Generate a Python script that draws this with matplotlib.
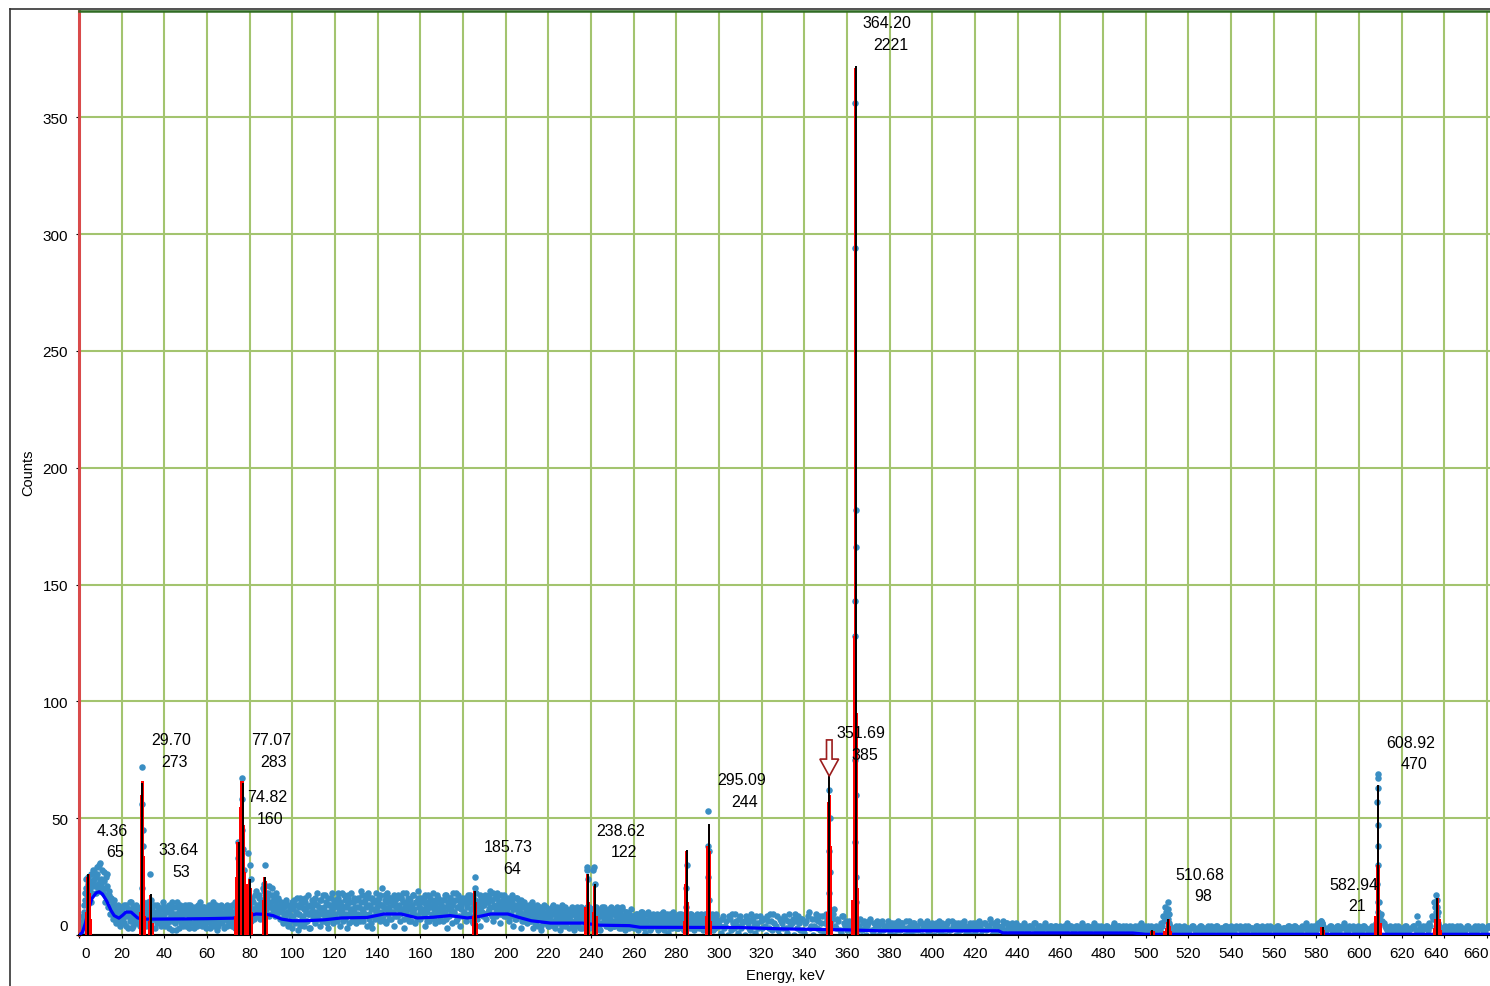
import numpy as np
import matplotlib.pyplot as plt
import matplotlib.transforms as mtransforms
from matplotlib.lines import Line2D
from matplotlib.patches import Polygon

plt.rcParams['font.family'] = ['Liberation Sans', 'DejaVu Sans']

# spectrum counts, even channels (0.5 keV step) from 0 to 299.5 keV
counts_lo = [
    0, 1, 2, 4, 8, 13, 18, 24, 22, 16, 20, 26, 18, 23, 27, 21, 25, 29, 22, 19,
    31, 24, 20, 27, 17, 25, 21, 15, 19, 12, 16, 10, 14, 8, 11, 6, 12, 9, 4, 10,
    7, 12, 5, 9, 13, 8, 3, 11, 6, 14, 9, 4, 10, 7, 12, 5, 8, 11, 6, 9,
    5, 10, 8, 13, 6, 11, 9, 4, 12, 7, 10, 3, 8, 13, 6, 9, 11, 5, 7, 12,
    9, 4, 11, 7, 13, 6, 10, 2, 8, 12, 5, 9, 14, 7, 3, 10, 8, 12, 6, 11,
    4, 9, 13, 7, 10, 5, 12, 8, 3, 11, 6, 9, 13, 7, 10, 4, 8, 12, 5, 9,
    11, 6, 9, 3, 12, 8, 10, 5, 13, 7, 4, 11, 9, 6, 12, 8, 3, 10, 7, 13,
    6, 9, 12, 4, 10, 8, 14, 7, 11, 5, 13, 9, 6, 12, 8, 10, 4, 11, 7, 9,
    12, 6, 15, 9, 11, 17, 8, 13, 10, 16, 7, 14, 11, 19, 9, 15, 12, 18, 8, 13,
    14, 20, 10, 16, 12, 18, 9, 15, 11, 13, 7, 12, 9, 14, 6, 10, 13, 5, 11, 8,
    3, 11, 15, 6, 13, 2, 9, 16, 5, 12, 8, 4, 14, 10, 6, 17, 9, 3, 12, 7,
    14, 5, 10, 18, 7, 12, 4, 15, 9, 11, 6, 17, 10, 3, 13, 8, 16, 11, 5, 12,
    9, 15, 6, 18, 11, 4, 13, 10, 17, 7, 12, 3, 16, 9, 11, 18, 6, 14, 10, 15,
    5, 12, 16, 8, 19, 11, 6, 14, 9, 17, 4, 13, 7, 16, 11, 3, 15, 8, 18, 12,
    10, 16, 6, 13, 20, 8, 12, 17, 5, 14, 11, 7, 16, 10, 13, 4, 15, 12, 8, 17,
    13, 6, 16, 10, 14, 3, 12, 18, 8, 15, 11, 6, 13, 17, 9, 5, 14, 8, 19, 12,
    7, 14, 11, 16, 4, 13, 10, 17, 6, 12, 15, 8, 18, 11, 5, 14, 9, 16, 7, 13,
    12, 6, 15, 10, 17, 3, 13, 8, 16, 11, 5, 14, 9, 18, 7, 12, 15, 4, 13, 8,
    14, 9, 16, 6, 12, 15, 8, 17, 11, 5, 13, 9, 18, 7, 14, 12, 4, 16, 10, 8,
    13, 17, 7, 14, 11, 19, 9, 15, 6, 12, 16, 8, 18, 11, 14, 5, 13, 9, 17, 12,
    8, 15, 12, 6, 14, 9, 17, 4, 13, 11, 7, 16, 8, 12, 3, 14, 9, 6, 13, 10,
    5, 11, 8, 13, 6, 10, 3, 12, 7, 9, 4, 11, 8, 2, 10, 6, 13, 5, 9, 7,
    10, 4, 8, 12, 6, 9, 3, 11, 7, 5, 10, 2, 8, 13, 6, 9, 4, 11, 7, 3,
    8, 11, 5, 9, 2, 10, 6, 12, 4, 8, 7, 11, 3, 9, 6, 10, 5, 8, 12, 7,
    9, 5, 11, 7, 3, 10, 6, 8, 2, 9, 12, 5, 7, 10, 4, 8, 6, 11, 3, 9,
    6, 10, 4, 8, 12, 5, 7, 9, 3, 11, 6, 8, 2, 10, 5, 7, 9, 4, 8, 6,
    3, 7, 5, 9, 2, 6, 8, 4, 10, 5, 7, 1, 6, 9, 4, 8, 3, 6, 5, 7,
    8, 4, 6, 2, 7, 5, 9, 3, 6, 8, 4, 7, 1, 5, 9, 6, 3, 8, 4, 6,
    5, 8, 3, 6, 9, 4, 7, 2, 6, 5, 8, 4, 7, 3, 9, 5, 6, 2, 8, 4,
    6, 3, 7, 5, 8, 2, 6, 9, 4, 7, 3, 5, 8, 6, 2, 7, 4, 9, 5, 6,
]

# odd channels, 0.25 to 299.75 keV
counts_lo2 = [
    0, 1, 3, 6, 10, 15, 20, 17, 25, 19, 23, 14, 21, 28, 24, 18, 26, 20, 30, 23,
    22, 28, 18, 23, 14, 20, 26, 12, 17, 9, 13, 7, 15, 10, 5, 11, 13, 8, 6, 12,
    10, 6, 13, 8, 4, 11, 9, 14, 7, 3, 12, 8, 5, 13, 10, 6, 9, 4, 11, 8,
    12, 7, 4, 10, 14, 8, 6, 11, 3, 9, 13, 7, 10, 5, 12, 8, 4, 11, 14, 6,
    7, 12, 5, 10, 3, 11, 8, 14, 6, 9, 2, 12, 7, 10, 13, 5, 11, 4, 9, 13,
    10, 6, 11, 3, 13, 8, 5, 10, 12, 7, 4, 11, 8, 14, 5, 9, 12, 6, 10, 3,
    8, 13, 5, 10, 7, 14, 4, 11, 9, 2, 12, 6, 10, 13, 5, 9, 12, 7, 4, 10,
    11, 5, 8, 13, 6, 10, 3, 12, 8, 14, 6, 9, 12, 7, 10, 13, 8, 5, 12, 9,
    9, 16, 11, 14, 7, 19, 12, 10, 17, 13, 8, 15, 20, 10, 14, 11, 16, 9, 21, 12,
    17, 11, 15, 8, 13, 10, 16, 12, 7, 14, 10, 5, 12, 8, 15, 4, 9, 12, 7, 14,
    8, 13, 5, 10, 16, 9, 12, 4, 14, 7, 11, 16, 6, 12, 9, 3, 13, 10, 15, 8,
    10, 16, 7, 13, 9, 15, 11, 6, 17, 12, 8, 14, 5, 16, 10, 13, 7, 18, 9, 14,
    13, 7, 16, 10, 14, 8, 18, 6, 12, 15, 9, 13, 17, 5, 14, 11, 8, 16, 12, 6,
    15, 9, 12, 6, 14, 17, 10, 8, 15, 12, 18, 9, 13, 5, 16, 11, 14, 7, 10, 15,
    14, 8, 17, 10, 13, 6, 15, 11, 18, 9, 12, 16, 7, 14, 10, 17, 8, 13, 16, 11,
    9, 16, 11, 18, 7, 14, 10, 13, 16, 6, 15, 12, 9, 17, 11, 14, 7, 16, 12, 10,
    16, 10, 14, 8, 17, 11, 6, 14, 12, 16, 9, 13, 7, 15, 12, 17, 10, 6, 14, 11,
    15, 9, 12, 17, 7, 14, 11, 16, 9, 13, 18, 10, 15, 6, 12, 17, 8, 14, 11, 16,
    10, 15, 8, 13, 17, 9, 14, 11, 6, 16, 12, 15, 8, 13, 10, 17, 12, 9, 14, 16,
    9, 14, 16, 10, 17, 12, 15, 8, 18, 13, 10, 16, 12, 14, 9, 17, 11, 15, 8, 14,
    14, 10, 16, 12, 8, 15, 11, 13, 7, 16, 12, 9, 14, 10, 15, 6, 12, 14, 8, 11,
    9, 13, 6, 11, 14, 8, 12, 5, 10, 13, 7, 9, 12, 4, 11, 8, 6, 12, 10, 4,
    7, 11, 5, 9, 13, 4, 10, 7, 12, 8, 6, 11, 4, 9, 7, 12, 5, 10, 8, 6,
    10, 6, 12, 4, 9, 7, 11, 5, 10, 3, 12, 8, 6, 11, 4, 9, 12, 6, 3, 10,
    6, 11, 4, 9, 12, 7, 10, 3, 8, 11, 5, 9, 12, 6, 10, 4, 9, 7, 12, 5,
    9, 4, 11, 6, 8, 10, 3, 9, 7, 12, 4, 8, 10, 5, 9, 3, 7, 11, 4, 8,
    7, 4, 9, 6, 3, 8, 10, 5, 7, 3, 9, 6, 4, 10, 7, 2, 8, 5, 9, 4,
    5, 9, 3, 7, 8, 4, 6, 10, 2, 7, 5, 9, 4, 8, 3, 7, 10, 5, 7, 3,
    7, 3, 9, 5, 4, 8, 6, 2, 9, 7, 4, 6, 9, 5, 7, 3, 8, 6, 4, 9,
    4, 8, 5, 9, 3, 6, 7, 4, 9, 5, 8, 2, 6, 9, 4, 7, 3, 8, 6, 4,
]

# 1 keV channels from 300 keV upward
counts_hi = [
    6, 1, 8, 4, 0, 7, 9, 3, 6, 1, 8, 5, 0, 7, 3, 9, 6, 1, 5, 8,
    3, 7, 0, 6, 9, 2, 5, 8, 0, 6, 3, 7, 1, 9, 5, 0, 6, 8, 2, 7,
    1, 6, 10, 4, 0, 7, 3, 8, 5, 1, 9, 4, 0, 7, 11, 3, 6, 1, 8, 4,
    2, 6, 0, 5, 1, 4, 7, 2, 6, 0, 5, 7, 1, 3, 6, 0, 5, 2, 4, 6,
    1, 5, 0, 4, 6, 2, 5, 0, 3, 6, 1, 5, 2, 4, 6, 0, 3, 5, 1, 4,
    5, 0, 3, 6, 1, 4, 0, 5, 2, 6, 3, 0, 5, 2, 4, 6, 1, 4, 0, 5,
    1, 4, 6, 0, 5, 2, 3, 7, 0, 5, 1, 4, 2, 6, 0, 5, 3, 1, 4, 5,
    2, 4, 0, 5, 3, 1, 4, 0, 5, 2, 4, 1, 0, 5, 3, 4, 1, 2, 4, 0,
    4, 1, 3, 5, 0, 4, 2, 0, 4, 3, 5, 1, 2, 4, 0, 3, 5, 1, 3, 4,
    0, 3, 4, 1, 2, 5, 0, 4, 3, 1, 3, 4, 0, 2, 1, 4, 3, 0, 5, 2,
    1, 4, 3, 0, 2, 4, 3, 5, 8, 12, 9, 5, 3, 1, 4, 2, 0, 3, 4, 1,
    3, 0, 4, 2, 1, 3, 4, 0, 2, 4, 1, 3, 0, 4, 2, 1, 3, 4, 2, 0,
    4, 1, 3, 0, 4, 2, 1, 3, 4, 0, 3, 1, 4, 2, 0, 3, 1, 4, 2, 0,
    3, 1, 4, 2, 0, 3, 1, 4, 2, 0, 4, 3, 1, 2, 0, 5, 3, 1, 2, 4,
    2, 5, 6, 4, 2, 0, 3, 4, 1, 2, 4, 3, 0, 5, 2, 1, 3, 4, 0, 2,
    1, 3, 4, 0, 2, 1, 4, 3, 5, 10, 8, 6, 4, 2, 0, 3, 1, 4, 2, 0,
    3, 1, 4, 2, 0, 3, 4, 8, 2, 1, 4, 3, 0, 5, 8, 14, 10, 5, 2, 1,
    3, 0, 4, 2, 1, 3, 4, 0, 2, 1, 3, 4, 0, 2, 1, 3, 4, 0, 2, 1, 3, 4,
]

# half-keV offset channels from 300.5 keV upward
counts_hi2 = [
    4, 7, 3, 6, 8, 2, 5, 9, 4, 7, 3, 6, 8, 5, 2, 7, 4, 8, 3, 6,
    7, 4, 8, 3, 6, 9, 4, 2, 7, 5, 8, 3, 6, 4, 7, 9, 3, 5, 7, 2,
    5, 8, 3, 7, 4, 9, 6, 2, 8, 5, 7, 3, 6, 9, 4, 7, 2, 8, 5, 6,
    4, 2, 5, 3, 6, 4, 2, 5, 3, 4, 6, 2, 5, 3, 4, 2, 6, 4, 3, 5,
    4, 3, 5, 2, 4, 5, 3, 6, 2, 4, 3, 5, 4, 2, 5, 3, 4, 6, 2, 4,
    3, 5, 2, 4, 5, 3, 4, 6, 2, 4, 5, 3, 2, 5, 3, 4, 2, 5, 3, 4,
    5, 3, 4, 2, 5, 4, 3, 5, 2, 4, 6, 3, 4, 2, 5, 3, 4, 5, 2, 3,
    4, 2, 3, 4, 2, 4, 3, 5, 2, 3, 4, 2, 4, 3, 2, 4, 3, 4, 2, 3,
    3, 4, 2, 3, 4, 3, 2, 4, 3, 2, 4, 3, 4, 2, 3, 4, 2, 4, 3, 2,
    3, 4, 2, 3, 4, 2, 3, 4, 2, 4, 3, 2, 4, 3, 2, 3, 4, 2, 3, 4,
    3, 2, 4, 3, 2, 3, 2, 4, 6, 10, 7, 4, 2, 3, 2, 4, 3, 2, 3, 3,
    2, 4, 3, 2, 3, 4, 2, 3, 2, 3, 4, 2, 3, 4, 2, 3, 2, 4, 3, 2,
    3, 2, 4, 3, 2, 3, 4, 2, 3, 3, 2, 4, 3, 2, 4, 3, 2, 3, 4, 3,
    2, 4, 3, 2, 3, 3, 4, 2, 3, 4, 2, 3, 2, 4, 3, 2, 3, 4, 3, 2,
    4, 3, 5, 3, 2, 3, 4, 2, 3, 4, 2, 3, 4, 3, 2, 4, 3, 2, 3, 4,
    3, 2, 4, 3, 2, 3, 2, 4, 5, 14, 9, 5, 3, 2, 4, 3, 2, 3, 4, 2,
    2, 4, 3, 2, 3, 4, 2, 5, 3, 2, 3, 4, 2, 4, 7, 12, 8, 4, 3, 2,
    4, 2, 3, 4, 2, 3, 2, 4, 3, 2, 4, 3, 2, 3, 4, 2, 3, 4, 2, 3, 4,
]

# channels inside the photopeaks (finer energy)
peak_pts_e = [29.5, 29.6, 29.8, 29.9, 29.4, 30.0, 33.3, 33.6,
              74.3, 74.5, 76.2, 76.4, 76.6, 76.8, 77.2, 79.3, 80.1, 80.4, 87.1, 86.8,
              185.4, 185.6, 237.9, 238.3, 238.6, 241.0, 241.6, 242.0,
              284.5, 284.8, 284.6, 294.8, 295.0, 295.2, 294.9, 295.4,
              351.7, 351.6, 351.8, 351.5, 351.9, 351.7,
              363.9, 363.9, 364.0, 364.0, 363.9, 363.8, 363.6, 364.1, 363.7, 364.2, 364.4,
              510.6, 510.3, 510.8, 510.1,
              608.8, 608.9, 608.7, 608.6, 608.9, 608.8, 608.7, 608.6, 608.9,
              636.3, 636.6, 636.5, 636.8, 636.2, 582.3, 582.8]
peak_pts_c = [72, 56, 45, 38, 20, 14, 26, 15,
              40, 33, 67, 58, 45, 37, 28, 35, 30, 24, 30, 22,
              25, 20, 29, 28, 24, 28, 29, 22,
              20, 30, 12, 53, 38, 36, 25, 15,
              75, 62, 50, 36, 27, 18,
              356, 294, 182, 166, 143, 128, 75, 60, 40, 25, 14,
              14, 11, 9, 7,
              69, 67, 63, 57, 47, 38, 30, 22, 14,
              17, 15, 12, 10, 8, 6, 5]

# smoothed continuum
bg_e = [0, 1.5, 3, 4.5, 6, 8, 9.5, 11, 13, 15, 16.5, 18.7, 20.5, 22, 24.4, 26, 27.5, 30,
        35, 50, 60, 72, 76, 80, 83, 88, 91, 95, 100, 106, 115, 123, 135, 143, 151,
        158.6, 166, 174, 182, 188, 193, 201, 206, 212, 221, 236, 244, 258, 263, 310,
        330, 360, 375, 431, 433, 494, 500, 662]
bg_c = [0, 1, 5, 11, 15.5, 18, 18.5, 17.5, 14.5, 10.5, 8.3, 7.2, 8.5, 9.8, 9.8, 8.5, 7.3, 6.8,
        6.8, 6.9, 7, 7.2, 7.8, 8.3, 9, 8.8, 8.3, 6.8, 6.1, 6.1, 6.5, 7.3, 7.5, 9, 9,
        7.3, 7.6, 8.3, 7.3, 8, 9, 9, 7.6, 6.1, 5.1, 5.1, 4.2, 4.0, 3.3, 3.2,
        2.6, 2.2, 1.8, 1.8, 0.9, 0.85, 0.3, 0.3]

# fitted peak channels (red)
fit_e = [3.2, 3.8, 4.4, 5.0, 5.6,
         28.5, 29.1, 29.7, 30.3, 30.9, 32.7, 33.3, 33.9, 34.5,
         73.1, 73.7, 74.3, 74.9, 75.5, 76.1, 76.7, 77.3, 77.9, 78.5, 79.3, 79.9, 80.5, 81.1,
         86.3, 86.9, 87.5, 88.1,
         184.7, 185.3, 185.9, 186.5,
         237.4, 238.0, 238.6, 239.2, 240.8, 241.4, 242.0, 242.6,
         283.6, 284.2, 284.8, 285.4, 294.0, 294.6, 295.2, 295.8, 296.4,
         350.6, 351.2, 351.8, 352.4, 353.0,
         362.6, 363.2, 363.8, 364.4, 365.0,
         502.6, 503.2, 503.8, 508.9, 509.5, 510.1, 510.7, 511.3, 511.9,
         582.3, 582.9, 583.5,
         607.7, 608.3, 608.9, 609.5, 610.1,
         635.3, 635.9, 636.5, 637.1, 637.7, 638.3]
fit_c = [10, 25, 26, 18, 7,
         10, 60, 66, 34, 8, 6, 17, 15, 5,
         8, 25, 40, 30, 55, 66, 66, 47, 27, 22, 22, 24, 20, 10,
         15, 25, 23, 8,
         8, 19, 14, 5,
         12, 26, 25, 14, 10, 21, 22, 8,
         6, 22, 36, 14, 8, 38, 47, 36, 6,
         10, 57, 60, 38, 6,
         15, 128, 371, 95, 20,
         1.5, 1.5, 1.5, 1.5, 3, 5.5, 7, 4, 1.5,
         3.5, 3.5, 2,
         8, 30, 64, 30, 5,
         3, 7, 16, 16, 7, 2]

# peak markers
marker_e = [4.36, 29.70, 33.64, 74.82, 77.07, 80.1, 87.1, 185.73, 238.62, 241.9,
            284.8, 295.09, 351.69, 364.20, 502.9, 510.68, 582.94, 608.92, 636.7]
marker_h = [26, 65, 17.5, 40, 65, 24, 25, 19, 26, 22,
            36.5, 47.5, 69, 372, 2, 7, 3.5, 64, 16]

# labelled peaks: energy, area
label_energy = ['4.36', '29.70', '33.64', '77.07', '74.82', '185.73', '238.62',
                '295.09', '351.69', '364.20', '510.68', '582.94', '608.92']
label_area = ['65', '273', '53', '283', '160', '64', '122',
              '244', '385', '2221', '98', '21', '470']
label_x = [15.5, 43.1, 46.6, 89.9, 88.1, 201.4, 253.9, 310.5, 366.7, 378.9, 525.5, 597.7, 624.3]
label_y = [44.9, 83.5, 36.4, 83.5, 59.1, 37.7, 44.9, 66.4, 86.5, 390.4, 26.1, 21.8, 82.6]

fig = plt.figure(figsize=(14.9, 9.87), dpi=100)
ax = fig.add_axes([79 / 1490, 51 / 987, 1411 / 1490, 924 / 987])

dot = dict(s=22, color='#3a8ec3', linewidths=0, zorder=2)
e_lo = np.arange(len(counts_lo)) * 0.5
e_hi = 300 + np.arange(len(counts_hi))
ax.scatter(e_lo, counts_lo, **dot)
ax.scatter(e_lo + 0.25, counts_lo2, **dot)
ax.scatter(e_hi, counts_hi, **dot)
ax.scatter(300.5 + np.arange(len(counts_hi2)), counts_hi2, **dot)
ax.scatter(peak_pts_e, peak_pts_c, **dot)

ax.plot(bg_e, bg_c, color='#0000ff', lw=2.3, zorder=3)
ax.bar(fit_e, fit_c, width=1.1, color='#ff0000', linewidth=0, zorder=4)
ax.vlines(marker_e, 0, marker_h, color='black', lw=1.4, zorder=5)

for i in range(len(label_energy)):
    ax.text(label_x[i], label_y[i], label_energy[i], ha='center', va='center',
            fontsize=11.5, zorder=6)
    ax.text(label_x[i] + 1.5, label_y[i] - 9.3, label_area[i], ha='center', va='center',
            fontsize=11.5, zorder=6)

# hollow arrow over the selected peak
ax_e, tip = 351.69, 68
arrow = Polygon([(ax_e - 1.3, tip + 15.5), (ax_e + 1.3, tip + 15.5), (ax_e + 1.3, tip + 7.3),
                 (ax_e + 4.4, tip + 7.3), (ax_e, tip), (ax_e - 4.4, tip + 7.3),
                 (ax_e - 1.3, tip + 7.3)], closed=True, facecolor='white',
                edgecolor='#9b1c1c', lw=1.2, zorder=7)
ax.add_patch(arrow)

ax.set_xlim(0.47, 661.4)
ax.set_ylim(0, 395.5)
ax.set_xticks(range(0, 661, 20))
ax.set_yticks(range(0, 351, 50))
ax.grid(True, color='#a3c46f', lw=1.5)
ax.set_axisbelow(True)
ax.tick_params(labelsize=11, length=2, pad=6)

ax.spines['right'].set_visible(False)
ax.spines['top'].set_color('#2f6b23')
ax.spines['top'].set_linewidth(1.8)
ax.spines['left'].set_color('#d94a4a')
ax.spines['left'].set_linewidth(2.2)
ax.spines['bottom'].set_color('black')
ax.spines['bottom'].set_linewidth(1.5)

ax.set_xlabel('Energy, keV', fontsize=10.5)
ax.set_ylabel('Counts', fontsize=10.5)
ax.xaxis.set_label_coords(0.5004, -0.0357)
ax.yaxis.set_label_coords(-0.031, 0.501)


def nudge(label, dx, dy):
    label.set_transform(label.get_transform() +
                        mtransforms.ScaledTranslation(dx / 100, dy / 100, fig.dpi_scale_trans))


xl = ax.get_xticklabels()
nudge(xl[0], 7, 0)
nudge(xl[-2], -8, 0)
nudge(xl[-1], -11, 0)
nudge(ax.get_yticklabels()[0], 0, 10)

# window frame
fx = 10 / 1490
fy = 1 - 10 / 987
fig.add_artist(Line2D([fx, fx], [0, fy], transform=fig.transFigure, color='#333333', lw=1.2))
fig.add_artist(Line2D([fx, 1], [fy, fy], transform=fig.transFigure, color='#333333', lw=1.2))

fig.savefig('out.png', dpi=100)
